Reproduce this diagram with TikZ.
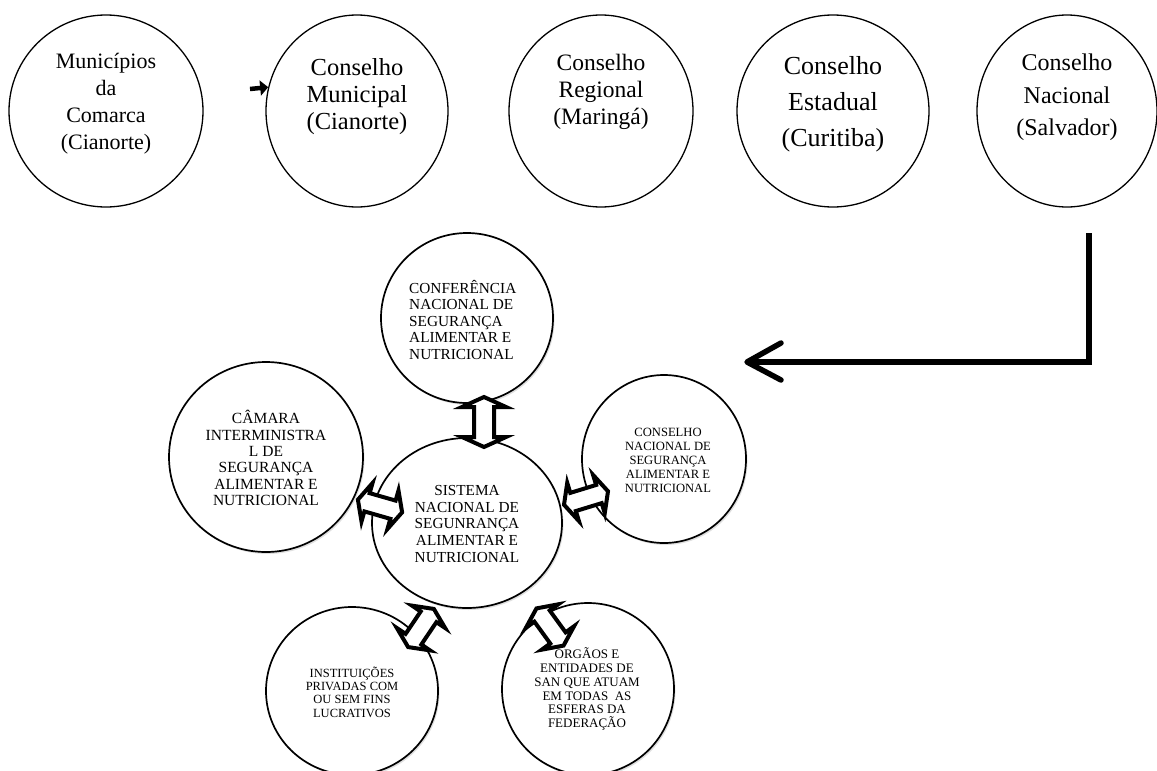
\documentclass[tikz,border=0pt]{standalone}
\usepackage{fontspec}
\setmainfont{Liberation Serif}
\usetikzlibrary{shapes.geometric,calc,shadows,arrows.meta}
\newcommand\setfs[2]{\fontsize{#1}{#2}\selectfont}

\begin{document}
\begin{tikzpicture}[x=1pt,y=-1pt,
  ring/.style={draw, ellipse, inner sep=0pt, line width=1.3pt},
  disc/.style={draw, ellipse, inner sep=0pt, line width=1.7pt, fill=white,
    drop shadow={shadow xshift=1.5pt, shadow yshift=-2pt, opacity=0.25}},
  lbl/.style={inner sep=0pt, align=center},
  twoway/.style={draw, fill=white, line width=4pt, line join=miter, miter limit=12},
  heavy/.style={line width=5.5pt},
  pics/dblarrow/.style n args={4}{code={
    \draw[twoway] (-#1,0) -- (-#1+#2,#3) -- (-#1+#2,#4) -- (#1-#2,#4) -- (#1-#2,#3)
      -- (#1,0) -- (#1-#2,-#3) -- (#1-#2,-#4) -- (-#1+#2,-#4) -- (-#1+#2,-#3) -- cycle;}}
]
\useasboundingbox (0,0) rectangle (1157,771);

% ---- top row: chain of councils ----
\node[ring, minimum width=194pt, minimum height=192pt] (mun) at (106,111) {};
\node[lbl, font=\setfs{22}{27}] (munt) at (106,104) {Municípios\\da\\Comarca\\(Cianorte)};

\node[ring, minimum width=182pt, minimum height=192pt] (cmu) at (357,111) {};
\node[lbl, font=\setfs{24.5}{27}] (cmut) at (357,97) {Conselho\\Municipal\\(Cianorte)};

\node[ring, minimum width=184pt, minimum height=192pt] (creg) at (601,111) {};
\node[lbl, font=\setfs{23.5}{27}] (cregt) at (601,92) {Conselho\\Regional\\(Maringá)};

\node[ring, minimum width=192pt, minimum height=192pt] (cest) at (833,111) {};
\node[lbl, font=\setfs{26}{36}] (cestt) at (833,104) {Conselho\\Estadual\\(Curitiba)};

\node[ring, minimum width=180pt, minimum height=192pt] (cnac) at (1067,111) {};
\node[lbl, font=\setfs{24}{32.5}] (cnact) at (1067,97.5) {Conselho\\Nacional\\(Salvador)};

% small pointer into the municipal council
\coordinate (nub) at (250,89);
\draw[line width=4.5pt, -{Triangle[length=8pt,width=15pt]}] (nub) -- (cmu.165);

% ---- elbow arrow down to the national system ----
\coordinate (lfrom) at (1089,233);
\coordinate (lto) at (747,362);
\draw[heavy] (lfrom) |- (lto);
\draw[heavy, line cap=round, line join=round]
  ($(lto)+(34,-19)$) -- (lto) -- ($(lto)+(34,18)$);

% ---- national food security system ----
\node[disc, minimum width=172pt, minimum height=170pt] (conf) at (467,318) {};
\node[disc, minimum width=194pt, minimum height=190pt] (cam) at (266,457) {};
\node[disc, minimum width=190pt, minimum height=170pt] (sis) at (467,523) {};
\node[disc, minimum width=164pt, minimum height=168pt] (cons) at (664,459) {};
\node[disc, minimum width=172pt, minimum height=168pt] (inst) at (352,691) {};
\node[disc, minimum width=172pt, minimum height=172pt] (org) at (588,689) {};

\node[inner sep=0pt, align=left, anchor=west, font=\setfs{15.3}{16.5}] (conft) at (409,320)
  {CONFERÊNCIA\\NACIONAL DE\\SEGURANÇA\\ALIMENTAR E\\NUTRICIONAL};
\node[lbl, font=\setfs{15.5}{16.3}] (camt) at (266,458)
  {CÂMARA\\INTERMINISTRA\\L DE\\SEGURANÇA\\ALIMENTAR E\\NUTRICIONAL};
\node[lbl, font=\setfs{15.3}{16.7}] (sist) at (467,524)
  {SISTEMA\\NACIONAL DE\\SEGUNRANÇA\\ALIMENTAR E\\NUTRICIONAL};
\node[lbl, font=\setfs{12.6}{14}] (const) at (668,460)
  {CONSELHO\\NACIONAL DE\\SEGURANÇA\\ALIMENTAR E\\NUTRICIONAL};
\node[lbl, font=\setfs{12.5}{13.3}] (instt) at (352,692)
  {INSTITUIÇÕES\\PRIVADAS COM\\OU SEM FINS\\LUCRATIVOS};
\node[lbl, font=\setfs{13}{13.7}] (orgt) at (587,689)
  {ÓRGÃOS E\\ENTIDADES DE\\SAN QUE ATUAM\\EM TODAS\ \ AS\\ESFERAS DA\\FEDERAÇÃO};

% ---- two-way block arrows between the system and its parts ----
\pic[rotate=90] (aconf) at (484,422) {dblarrow={25}{10}{22}{10}};
\pic[rotate=-16] (acam) at (380,506) {dblarrow={23}{9.5}{20}{9.5}};
\pic[rotate=17] (acons) at (586,498) {dblarrow={23}{9.5}{20}{9.5}};
\pic[rotate=56] (ainst) at (421,628) {dblarrow={23}{9.5}{20}{9.5}};
\pic[rotate=-54] (aorg) at (550,627) {dblarrow={23}{9.5}{20}{9.5}};
\end{tikzpicture}
\end{document}
